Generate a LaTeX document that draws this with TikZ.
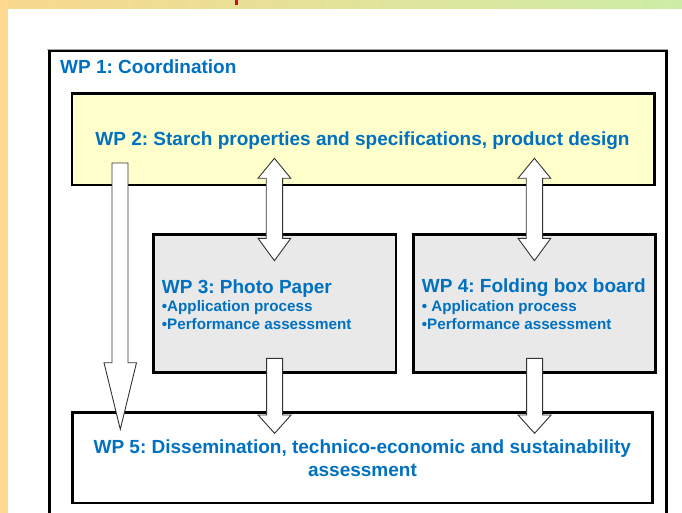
\documentclass[tikz,border=0pt]{standalone}
\usepackage{fontspec}
\setmainfont{Liberation Sans}
\frenchspacing
\definecolor{wpblue}{HTML}{0070C0}
\definecolor{bandorange}{HTML}{FFD98F}
\definecolor{bandleft}{HTML}{F9D98E}
\definecolor{bandright}{HTML}{CDEDA6}
\definecolor{wpyellow}{HTML}{FFFFCC}
\definecolor{wpgrey}{HTML}{E9E9E9}
\definecolor{marker}{HTML}{C8102E}
\begin{document}
\begin{tikzpicture}[x=1pt,y=-1pt,
  box/.style={draw=black, line width=2.6pt, inner sep=0pt, outer sep=0pt, anchor=north west},
  head/.style={font=\frenchspacing\fontsize{19}{22.7}\selectfont\bfseries, text=wpblue, inner sep=0pt},
  sub/.style={font=\frenchspacing\fontsize{15.2}{17.6}\selectfont\bfseries, text=wpblue, inner sep=0pt, anchor=base west},
  blockarrow/.style={draw=black!80, line width=0.9pt, fill=white, line join=miter}]
\useasboundingbox (0,0) rectangle (682,513);
% background bands
\shade[left color=bandleft, right color=bandright] (0,0) rectangle (682,9);
\fill[bandorange] (0,0) rectangle (8,513);
\fill[marker] (235,0) rectangle (238,5);
% outer box WP1
\draw[gray!70, line width=0.8pt] (47.3,49) -- (667.8,49);
\node[box, minimum width=617pt, minimum height=500pt] (wp1) at (49.5,51) {};
\node[head, anchor=base west] (t1) at (60,73.3) {WP 1: Coordination};
% WP2
\node[box, fill=wpyellow, minimum width=582.5pt, minimum height=91.5pt] (wp2) at (72,93.5) {};
\node[head, anchor=base] (t2) at (362.5,146) {WP 2: Starch properties and specifications, product design};
% WP3
\node[box, fill=wpgrey, minimum width=242.5pt, minimum height=138pt] (wp3) at (153.5,234.5) {};
\node[head, anchor=base west] (t3) at (161.7,293.3) {WP 3: Photo Paper};
\node[sub] (t3a) at (161.7,311.7) {•Application process};
\node[sub] (t3b) at (161.7,329.3) {•Performance assessment};
% WP4
\node[box, fill=wpgrey, minimum width=242pt, minimum height=138pt] (wp4) at (413.5,234.5) {};
\node[head, anchor=base west] (t4) at (421.7,292.7) {WP 4: Folding box board};
\node[sub] (t4a) at (421.7,311.7) {• Application process};
\node[sub] (t4b) at (421.7,329.3) {•Performance assessment};
% WP5
\node[box, minimum width=580pt, minimum height=90.5pt] (wp5) at (72.5,412.5) {};
\node[head, anchor=base] (t5a) at (362.3,453.3) {WP 5: Dissemination, technico-economic and sustainability};
\node[head, anchor=base] (t5b) at (362.5,476) {assessment};
% arrows
% WP2 -> WP5 long arrow
\draw[blockarrow] (112,163) -- (128,163) -- (128,362.7) -- (136.5,362.7) -- (120.3,429.3)
  -- (104,362.7) -- (112,362.7) -- cycle;
% double arrows WP2 <-> WP3, WP2 <-> WP4
\foreach \cx in {274.4,534.4}{
  \draw[blockarrow] (\cx,158.3) -- (\cx+16.4,178.3) -- (\cx+8.2,178.3) -- (\cx+8.2,238.3)
    -- (\cx+16.4,238.3) -- (\cx,260.7) -- (\cx-16.4,238.3) -- (\cx-8.2,238.3)
    -- (\cx-8.2,178.3) -- (\cx-16.4,178.3) -- cycle;
}
% WP3 -> WP5, WP4 -> WP5
\foreach \cx in {274.6,534.6}{
  \draw[blockarrow] (\cx-8,358.3) -- (\cx+8,358.3) -- (\cx+8,415) -- (\cx+16.5,415)
    -- (\cx,433.3) -- (\cx-16.5,415) -- (\cx-8,415) -- cycle;
}
\end{tikzpicture}
\end{document}
